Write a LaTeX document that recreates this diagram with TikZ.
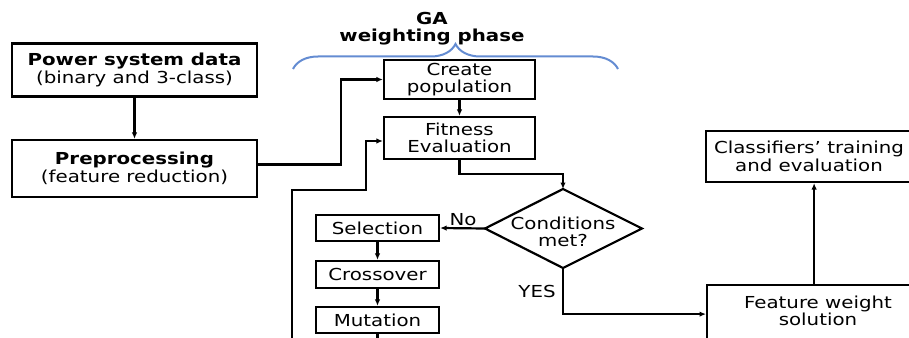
\documentclass[tikz,border=0pt]{standalone}
\usepackage{fontspec}
\setmainfont{DejaVu Sans}[FakeStretch=1.2]
\usetikzlibrary{arrows.meta,decorations.pathreplacing}
\definecolor{braceblue}{RGB}{100,140,210}
\begin{document}
\begin{tikzpicture}[x=1pt,y=-1pt,
  txt/.style={inner sep=0pt, align=center, font=\fontsize{16.5}{17.5}\selectfont},
  box/.style={txt, draw, line width=2.2pt},
  arr/.style={line width=2.2pt, -{Latex[length=6.5pt,width=5.5pt]}},
  ln/.style={line width=2.2pt}]
\clip (0,0) rectangle (909,337);
\useasboundingbox (0,0) rectangle (909,337);

\node[box, minimum width=245pt, minimum height=53pt] (power) at (134.5,70) {\textbf{Power system data}\\(binary and 3-class)};
\node[box, minimum width=245pt, minimum height=57pt] (prep) at (134.5,168.5) {\textbf{Preprocessing}\\(feature reduction)};

\node[txt, font=\bfseries\fontsize{16.5}{17}\selectfont] (ga) at (432,28.5) {GA\\weighting phase};
\draw[braceblue, line width=2pt, decorate, decoration={brace, amplitude=25pt}] (293,69) -- (618,69);

\node[box, minimum width=151pt, minimum height=39pt] (create) at (459.5,79.5) {Create\\population};
\node[box, minimum width=151pt, minimum height=42pt] (fit) at (459.5,138) {Fitness\\Evaluation};

\coordinate (condT) at (563,189);
\coordinate (condR) at (642,228.5);
\coordinate (condB) at (563,268);
\coordinate (condL) at (485,228.5);
\draw[ln, line join=miter] (condT) -- (condR) -- (condB) -- (condL) -- cycle;
\node[txt] (cond) at (563,232) {Conditions\\met?};

\node[box, minimum width=123pt, minimum height=26pt] (sel) at (377.5,228) {Selection};
\node[box, minimum width=123pt, minimum height=27pt] (cross) at (377.5,274.5) {Crossover};
\node[box, minimum width=123pt, minimum height=26pt] (mut) at (377.5,320) {Mutation};

\node[txt] (no) at (463,220) {No};
\node[txt] (yes) at (537,291.5) {YES};

\node[draw, line width=2.2pt, minimum width=214pt, minimum height=58pt, anchor=north west, inner sep=0pt] (feat) at (706,284) {};
\node[txt] (feattext) at (818,311) {Feature weight\\solution};
\node[box, minimum width=206pt, minimum height=51pt] (cls) at (809,156.5) {Classifiers’ training\\and evaluation};

\draw[arr] (power) -- (prep);
\draw[arr] ([yshift=4pt]prep.east) -| (341,120) |- (create.west);
\draw[arr] (create) -- (fit);
\draw[arr] (mut.south) -- ++(0,20) -| (292,190) -- (366,190) |- ([yshift=-3pt]fit.west);
\draw[arr] (fit.south) -- ++(0,14) -| (condT);
\draw[arr] (condL) -- (sel.east);
\draw[arr] (sel) -- (cross);
\draw[arr] (cross) -- (mut);
\draw[arr] (condB) |- (feat.west);
\draw[arr] (feat.north) -- (feat.north |- cls.south);
\end{tikzpicture}
\end{document}
